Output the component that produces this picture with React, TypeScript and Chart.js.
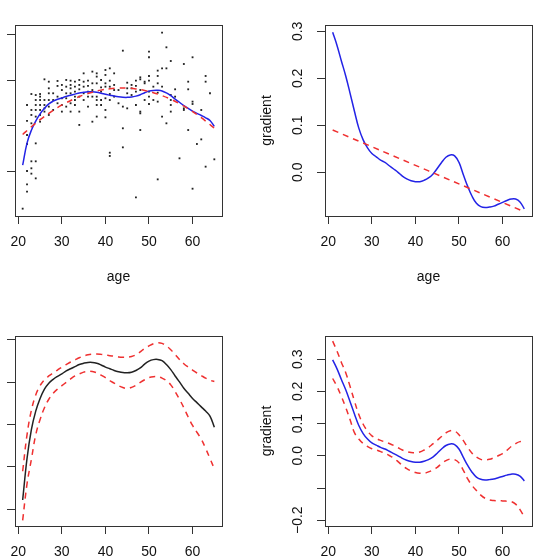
import React, { useEffect, useRef } from "react";
import { Chart, registerables } from "chart.js";

Chart.register(...registerables);

const FONT = "'Liberation Sans', Arial, Helvetica, sans-serif";
const TEXT = "#111";
const AXIS = "#333";
const BLUE = "#2323e6";
const RED = "#ef3030";
const BLACK = "#222";

// ---- x axis (age) ----
const xTicks = [20, 30, 40, 50, 60];
const xMin = 19.24;
const xMax = 66.76;

// ---- panel 1: observations (age, response) ----
const pointAge = [
  21,
  22, 22, 22, 22, 22, 22, 22,
  23, 23, 23, 23, 23, 23, 23,
  24, 24, 24, 24, 24, 24, 24, 24,
  25, 25, 25, 25, 25, 25, 25,
  26, 26, 26, 26, 26,
  27, 27, 27, 27, 27, 27,
  28, 28, 28,
  29, 29, 29, 29,
  30, 30, 30, 30, 30,
  31, 31, 31, 31, 31,
  32, 32, 32, 32, 32, 32,
  33, 33, 33, 33, 33, 33,
  34, 34, 34, 34, 34, 34,
  35, 35, 35, 35, 35,
  36, 36, 36, 36, 36,
  37, 37, 37, 37, 37,
  38, 38, 38, 38, 38, 38, 38,
  39, 39, 39, 39, 39,
  40, 40, 40, 40, 40, 40, 40,
  41, 41, 41, 41, 41, 41, 41,
  42, 42, 42, 42,
  43, 43,
  44, 44, 44, 44,
  45, 45, 45, 45,
  46, 46, 46,
  47, 47, 47, 47, 47,
  48, 48, 48, 48, 48, 48,
  49, 49, 49,
  50, 50, 50, 50, 50, 50, 50,
  51, 51,
  52, 52, 52, 52, 52, 52,
  53, 53, 53, 53,
  54, 54, 54,
  55, 55, 55, 55, 55,
  56, 56,
  57,
  58, 58, 58,
  59, 59, 59,
  60, 60, 60, 60,
  61,
  62, 62,
  63, 63, 63,
  64,
  65,
];
const pointValue = [
  58.5,
  172.8, 155.2, 139.7, 129.8, 100.0, 85.3, 77.2,
  184.9, 167.3, 161.8, 152.6, 110.7, 103.0, 97.1,
  183.8, 178.3, 172.8, 167.3, 160.0, 130.5, 110.7, 91.9,
  184.9, 182.0, 178.3, 172.8, 167.3, 161.8, 154.4,
  201.1, 178.3, 172.8, 169.1, 165.5,
  198.5, 191.2, 185.7, 178.3, 171.0, 161.8,
  185.7, 178.3, 167.3,
  199.3, 193.8, 182.0, 174.7,
  194.9, 189.3, 180.2, 172.8, 165.5,
  200.4, 193.0, 185.7, 180.2, 171.0,
  199.6, 194.9, 191.2, 185.7, 174.7, 165.5,
  198.5, 193.0, 187.5, 182.0, 178.3, 172.8,
  200.4, 194.9, 190.1, 182.0, 165.5, 150.8,
  207.7, 198.5, 193.0, 185.7, 178.3,
  199.6, 193.8, 187.5, 182.0, 171.0,
  209.6, 196.7, 189.3, 182.0, 154.4,
  207.7, 204.1, 196.7, 182.0, 178.3, 172.8, 160.0,
  200.4, 192.3, 187.5, 178.3, 172.8,
  211.4, 205.9, 196.7, 193.0, 180.2, 167.3, 159.2,
  213.2, 199.6, 193.0, 184.9, 178.3, 120.2, 116.6,
  207.7, 194.9, 189.3, 182.0,
  189.3, 174.7,
  232.7, 171.0, 147.1, 126.1,
  197.4, 191.2, 185.7, 169.1,
  194.9, 191.2, 183.8,
  199.6, 193.8, 187.5, 172.8, 71.0,
  203.3, 201.1, 189.3, 165.5, 163.6, 145.2,
  198.5, 196.7, 178.3,
  231.6, 225.4, 204.8, 199.6, 187.5, 182.0, 173.9,
  193.0, 178.3,
  210.7, 204.8, 196.7, 186.4, 176.5, 90.8,
  252.6, 213.2, 193.0, 160.0,
  236.4, 213.2, 152.6,
  221.3, 183.8, 178.3, 172.8, 165.5,
  190.1, 182.0,
  114.0,
  218.0, 169.1, 167.3,
  198.5, 190.1, 145.2,
  225.4, 176.5, 173.9, 80.5,
  129.8,
  167.3, 134.9,
  204.8, 198.5, 104.8,
  185.7,
  112.9,
];

// ---- curves evaluated on an age grid ----
const curveAge = [
  21, 22, 23, 24, 25, 26, 27, 28, 29, 30, 31, 32, 33, 34, 35, 36, 37, 38, 39, 40, 41, 42, 43,
  44, 45, 46, 47, 48, 49, 50, 51, 52, 53, 54, 55, 56, 57, 58, 59, 60, 61, 62, 63, 64, 65,
];
const smoothFit = [
  106.4, 130.8, 145.0, 155.0, 163.0, 169.0, 174.0, 177.0, 179.1, 180.6, 182.3, 183.6, 184.8,
  186.1, 186.8, 187.3, 187.3, 186.8, 185.8, 184.6, 183.6, 182.6, 181.8, 181.3, 181.2, 181.6,
  182.6, 184.1, 186.3, 188.1, 188.9, 189.0, 188.3, 186.1, 183.1, 179.3, 175.8, 172.1, 169.1,
  166.1, 163.6, 161.2, 158.7, 155.7, 149.2,
];
const quadAge = [21, 23, 25, 27, 29, 31, 33, 35, 37, 39, 41, 43, 45, 47, 49, 51, 53, 55, 57, 59, 61, 63, 65];
const quadFit = [
  140.2, 148.8, 156.6, 163.6, 169.9, 175.3, 180.0, 183.9, 186.9, 189.2, 190.7, 191.4, 191.4,
  190.5, 188.8, 186.4, 183.1, 179.1, 174.3, 168.7, 162.3, 155.1, 147.1,
];
const panel1YTicks = [100, 150, 200, 250];

// ---- panel 2 / 4: gradient ----
const gradient = [
  0.298, 0.27, 0.237, 0.205, 0.168, 0.13, 0.094, 0.069, 0.052, 0.04, 0.033, 0.026, 0.021, 0.014,
  0.007, 0.0, -0.008, -0.014, -0.018, -0.02, -0.02, -0.017, -0.012, -0.004, 0.008, 0.021, 0.032,
  0.037, 0.035, 0.021, -0.005, -0.03, -0.051, -0.066, -0.073, -0.075, -0.074, -0.072, -0.068,
  -0.064, -0.06, -0.057, -0.057, -0.063, -0.078,
];
const linGradAge = [21, 65];
const linGrad = [0.09, -0.084];
const gradTicks = [0.0, 0.1, 0.2, 0.3];

const gradUpper = [
  0.356, 0.325, 0.29, 0.258, 0.215, 0.17, 0.128, 0.098, 0.077, 0.062, 0.054, 0.048, 0.043, 0.038,
  0.032, 0.025, 0.018, 0.013, 0.01, 0.01, 0.012, 0.018, 0.026, 0.037, 0.048, 0.06, 0.071, 0.078,
  0.077, 0.065, 0.047, 0.026, 0.008, -0.004, -0.011, -0.013, -0.011, -0.006, 0.0, 0.007, 0.017,
  0.029, 0.038, 0.044, 0.045,
];
const gradLower = [
  0.24, 0.215, 0.184, 0.15, 0.112, 0.072, 0.052, 0.038, 0.029, 0.022, 0.018, 0.013, 0.008, 0.001,
  -0.007, -0.018, -0.03, -0.04, -0.047, -0.052, -0.054, -0.054, -0.05, -0.044, -0.036, -0.024,
  -0.015, -0.01, -0.012, -0.022, -0.045, -0.072, -0.092, -0.108, -0.122, -0.132, -0.137, -0.139,
  -0.14, -0.14, -0.141, -0.142, -0.15, -0.167, -0.19,
];
const gradCITicks = [-0.2, -0.1, 0.0, 0.1, 0.2, 0.3];
const gradCIHiddenLabel = [-0.1];

// ---- panel 3: fitted smooth with bands ----
const termFit = [
  -1.39, -0.9, -0.56, -0.34, -0.19, -0.08, -0.01, 0.035, 0.07, 0.1, 0.135, 0.16, 0.185, 0.21,
  0.225, 0.235, 0.235, 0.225, 0.205, 0.18, 0.16, 0.14, 0.125, 0.115, 0.113, 0.12, 0.14, 0.17,
  0.215, 0.25, 0.268, 0.27, 0.255, 0.21, 0.15, 0.075, 0.005, -0.07, -0.13, -0.19, -0.24, -0.29,
  -0.34, -0.4, -0.53,
];
const termUpper = [
  -1.05, -0.62, -0.33, -0.15, -0.04, 0.03, 0.075, 0.11, 0.145, 0.18, 0.21, 0.24, 0.265, 0.29, 0.31,
  0.325, 0.333, 0.335, 0.33, 0.322, 0.315, 0.308, 0.3, 0.296, 0.297, 0.305, 0.325, 0.36, 0.4, 0.43,
  0.455, 0.468, 0.46, 0.43, 0.385, 0.33, 0.27, 0.22, 0.18, 0.145, 0.11, 0.08, 0.05, 0.025, 0.01,
];
const termLower = [
  -1.63, -1.2, -0.91, -0.62, -0.44, -0.3, -0.2, -0.13, -0.08, -0.04, 0.0, 0.04, 0.075, 0.1, 0.12,
  0.132, 0.128, 0.113, 0.085, 0.055, 0.02, -0.01, -0.04, -0.062, -0.072, -0.06, -0.035, 0.0, 0.03,
  0.055, 0.066, 0.066, 0.05, 0.02, -0.03, -0.11, -0.2, -0.3, -0.41, -0.51, -0.59, -0.67, -0.78,
  -0.9, -1.02,
];
const termTicks = [-1.5, -1.0, -0.5, 0.0, 0.5];

const xy = (xs: number[], ys: number[]) => xs.map((x, i) => ({ x, y: ys[i] }));

const boxPlugin = {
  id: "rbox",
  afterDraw(chart: any) {
    const { ctx, chartArea: a } = chart;
    ctx.save();
    ctx.strokeStyle = AXIS;
    ctx.lineWidth = 1;
    ctx.strokeRect(
      Math.round(a.left) + 0.5,
      Math.round(a.top) + 0.5,
      Math.round(a.right - a.left),
      Math.round(a.bottom - a.top)
    );
    ctx.restore();
  },
};

const font = { family: FONT, size: 14 };

function lineDs(xs: number[], ys: number[], color: string, dashed: boolean, width = 1.5) {
  return {
    data: xy(xs, ys),
    showLine: true,
    borderColor: color,
    backgroundColor: color,
    borderWidth: width,
    borderDash: dashed ? [6, 5] : [],
    pointRadius: 0,
    pointHoverRadius: 0,
    tension: 0.4,
  };
}

function makeOptions(o: {
  padTop: number;
  padRight: number;
  xTitle?: string;
  yTitle?: string;
  yTicks: number[];
  yMin: number;
  yMax: number;
  showYLabels: boolean;
  yLabelPad: number;
  hidden?: number[];
}) {
  const grid = { drawOnChartArea: false, drawTicks: true, tickLength: 8, color: AXIS, lineWidth: 1 };
  return {
    responsive: false,
    animation: false,
    devicePixelRatio: 1,
    events: [],
    layout: { padding: { top: o.padTop, right: o.padRight, left: 0, bottom: 0 } },
    plugins: { legend: { display: false }, tooltip: { enabled: false } },
    scales: {
      x: {
        type: "linear",
        position: "bottom",
        bounds: "data",
        min: xMin,
        max: xMax,
        afterBuildTicks: (s: any) => {
          s.ticks = xTicks.map((v) => ({ value: v }));
        },
        afterFit: (s: any) => {
          s.height = 84;
        },
        grid,
        border: { display: false },
        ticks: {
          font,
          color: TEXT,
          padding: 9.3,
          autoSkip: false,
          maxRotation: 0,
          minRotation: 0,
          callback: (v: number) => String(v),
        },
        title: {
          display: !!o.xTitle,
          text: o.xTitle || "",
          font,
          color: TEXT,
          padding: { top: 0, bottom: 14.9 },
        },
      },
      y: {
        type: "linear",
        position: "left",
        bounds: "data",
        min: o.yMin,
        max: o.yMax,
        afterBuildTicks: (s: any) => {
          s.ticks = o.yTicks.map((v) => ({ value: v }));
        },
        afterFit: (s: any) => {
          s.width = 75;
        },
        grid,
        border: { display: false },
        ticks: {
          display: o.showYLabels,
          font,
          color: TEXT,
          padding: o.yLabelPad,
          autoSkip: false,
          minRotation: 90,
          maxRotation: 90,
          crossAlign: "center",
          callback: (v: number) =>
            o.hidden && o.hidden.some((h) => Math.abs(h - v) < 1e-9)
              ? ""
              : v.toFixed(1).replace("-", "\u2212"),
        },
        title: {
          display: !!o.yTitle,
          text: o.yTitle || "",
          font,
          color: TEXT,
          padding: { top: 8.6, bottom: 0 },
        },
      },
    },
  };
}

const panels = [
  { left: -60, top: 0, w: 310, h: 300 },
  { left: 250, top: 0, w: 296, h: 300 },
  { left: -60, top: 310, w: 310, h: 300 },
  { left: 250, top: 310, w: 296, h: 300 },
];

function buildConfigs(): any[] {
  return [
    {
      type: "scatter",
      data: {
        datasets: [
          lineDs(quadAge, quadFit, RED, true),
          lineDs(curveAge, smoothFit, BLUE, false),
          {
            data: xy(pointAge, pointValue),
            showLine: false,
            pointStyle: "rect",
            pointRadius: 1.3,
            pointHoverRadius: 1.3,
            pointBorderWidth: 0,
            borderWidth: 0,
            backgroundColor: BLACK,
            borderColor: BLACK,
          },
        ],
      },
      options: makeOptions({
        padTop: 25,
        padRight: 28,
        xTitle: "age",
        yTicks: panel1YTicks,
        yMin: 50.4,
        yMax: 261,
        showYLabels: false,
        yLabelPad: 8,
      }),
    },
    {
      type: "scatter",
      data: {
        datasets: [lineDs(linGradAge, linGrad, RED, true), lineDs(curveAge, gradient, BLUE, false)],
      },
      options: makeOptions({
        padTop: 25,
        padRight: 14,
        xTitle: "age",
        yTitle: "gradient",
        yTicks: gradTicks,
        yMin: -0.093,
        yMax: 0.3135,
        showYLabels: true,
        yLabelPad: 8.8,
      }),
    },
    {
      type: "scatter",
      data: {
        datasets: [
          lineDs(curveAge, termUpper, RED, true),
          lineDs(curveAge, termLower, RED, true),
          lineDs(curveAge, termFit, BLACK, false),
        ],
      },
      options: makeOptions({
        padTop: 26,
        padRight: 28,
        yTicks: termTicks,
        yMin: -1.697,
        yMax: 0.547,
        showYLabels: false,
        yLabelPad: 8,
      }),
    },
    {
      type: "scatter",
      data: {
        datasets: [
          lineDs(curveAge, gradUpper, RED, true),
          lineDs(curveAge, gradLower, RED, true),
          lineDs(curveAge, gradient, BLUE, false),
        ],
      },
      options: makeOptions({
        padTop: 26,
        padRight: 14,
        yTitle: "gradient",
        yTicks: gradCITicks,
        yMin: -0.218,
        yMax: 0.372,
        showYLabels: true,
        yLabelPad: 4.7,
        hidden: gradCIHiddenLabel,
      }),
    },
  ];
}

export default function App() {
  const refs = useRef<(HTMLCanvasElement | null)[]>([]);

  useEffect(() => {
    const configs = buildConfigs();
    const charts = configs.map((cfg, i) => {
      const canvas = refs.current[i]!;
      return new Chart(canvas, { ...cfg, plugins: [boxPlugin] });
    });
    return () => charts.forEach((c) => c.destroy());
  }, []);

  return (
    <div
      style={{
        position: "absolute",
        left: 0,
        top: 0,
        width: 546,
        height: 556,
        overflow: "hidden",
        background: "#fff",
      }}
    >
      {panels.map((p, i) => (
        <canvas
          key={i}
          ref={(el) => {
            refs.current[i] = el;
          }}
          width={p.w}
          height={p.h}
          style={{ position: "absolute", left: p.left, top: p.top, width: p.w, height: p.h }}
        />
      ))}
    </div>
  );
}
